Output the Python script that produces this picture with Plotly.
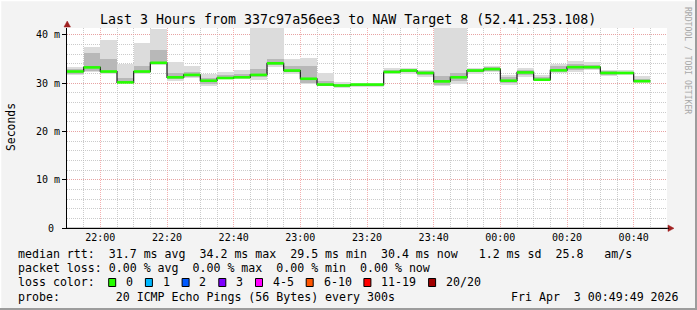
import plotly.graph_objects as go
from datetime import datetime, timedelta

# ---------------- data ----------------
start = datetime(2026, 4, 2, 21, 50)
step_min = 5
median_ms = [32.4, 33.25, 32.4, 30.15, 32.4, 34.2, 31.2, 31.7, 30.5,
             31.05, 31.2, 31.7, 34.1, 32.6, 30.9, 29.7, 29.5, 29.7,
             29.7, 32.3, 32.6, 32.1, 30.35, 31.2, 32.6, 32.9, 30.5,
             32.2, 30.7, 32.65, 33.3, 33.3, 32.1, 32.1, 30.4]
smoke_hi = [33.3, 37.5, 39.0, 34.0, 38.2, 41.3, 34.4, 33.5, 31.9,
            32.3, 32.8, 41.4, 41.4, 35.0, 35.3, 32.1, 30.3, 30.0,
            30.0, 33.1, 33.1, 32.8, 41.4, 41.4, 33.1, 33.6, 31.7,
            33.1, 31.7, 33.95, 34.5, 34.3, 32.8, 32.8, 31.4]
smoke_lo = [31.6, 32.2, 31.9, 30.0, 31.8, 33.7, 30.5, 31.1, 29.5,
            30.8, 30.8, 30.6, 33.3, 31.9, 29.8, 29.3, 29.0, 29.1,
            29.2, 31.8, 31.9, 31.3, 29.3, 29.8, 31.9, 32.4, 29.7,
            31.3, 30.4, 32.0, 32.3, 32.8, 31.4, 31.7, 30.1]
mid_hi = [33.0, 36.3, 35.0, 31.0, 33.5, 36.8, 32.0, 32.3, 31.0,
          31.6, 31.8, 33.0, 35.0, 33.5, 33.5, 30.5, 29.8, 29.9,
          29.9, 32.7, 32.9, 32.5, 31.5, 32.0, 32.9, 33.3, 31.2,
          32.7, 31.2, 33.5, 34.0, 33.8, 32.5, 32.4, 30.9]
mid_lo = [31.9, 32.6, 32.1, 30.0, 32.0, 34.0, 30.8, 31.3, 29.9,
          30.9, 31.0, 31.2, 33.7, 32.3, 30.0, 29.5, 29.2, 29.4,
          29.4, 32.0, 32.2, 31.6, 29.6, 30.5, 32.2, 32.6, 30.0,
          31.6, 30.5, 32.3, 32.8, 33.0, 31.7, 31.8, 30.2]

y_tickvals = [0, 10, 20, 30, 40]
y_ticktext = ["0 ", "10 m", "20 m", "30 m", "40 m"]

title_text = "Last 3 Hours from 337c97a56ee3 to NAW Target 8 (52.41.253.108)"
legend_lines = [
    "median rtt:  31.7 ms avg  34.2 ms max  29.5 ms min  30.4 ms now   1.2 ms sd  25.8   am/s",
    "packet loss: 0.00 % avg  0.00 % max  0.00 % min  0.00 % now",
]
loss_labels = ["0", "1", "2", "3", "4-5", "6-10", "11-19", "20/20"]
loss_colors = ["#26ff00", "#00b8ff", "#0059ff", "#7e00ff", "#ff00ff",
               "#ff5500", "#ff0000", "#a10000"]
probe_text = "probe:        20 ICMP Echo Pings (56 Bytes) every 300s"
date_text = "Fri Apr  3 00:49:49 2026"
side_text = "RRDTOOL / TOBI OETIKER"

# ---------------- geometry helpers ----------------
W, H = 697, 310
ML, MR, MT, MB = 67, 30, 28, 82
PW, PH = W - ML - MR, H - MT - MB
def px(x):
    return (x - ML) / PW
def py(y):
    return (H - MB - y) / PH

MONO = "DejaVu Sans Mono"
def nb(s):
    return s.replace(" ", "\u00a0")

starts = [start + timedelta(minutes=step_min * i) for i in range(len(median_ms))]
ends = [t + timedelta(minutes=step_min) for t in starts]
wms = step_min * 60 * 1000

fig = go.Figure()
fig.add_trace(go.Bar(x=starts, base=smoke_lo, y=[h - l for h, l in zip(smoke_hi, smoke_lo)],
                     offset=0, width=wms, marker=dict(color="#dcdcdc", line=dict(width=0)),
                     hoverinfo="skip"))
fig.add_trace(go.Bar(x=starts, base=mid_lo, y=[h - l for h, l in zip(mid_hi, mid_lo)],
                     offset=0, width=wms, marker=dict(color="#b8b8b8", line=dict(width=0)),
                     hoverinfo="skip"))
# dark band / black step line
fig.add_trace(go.Scatter(x=starts + [ends[-1]], y=median_ms + [median_ms[-1]],
                         mode="lines", line=dict(shape="hv", color="#1a1a1a", width=1.2),
                         hoverinfo="skip"))
gx, gy = [], []
for s, e, m in zip(starts, ends, median_ms):
    gx += [s, e, None]
    gy += [m, m, None]
fig.add_trace(go.Scatter(x=gx, y=gy, mode="lines",
                         line=dict(color="#26ff00", width=2.6), hoverinfo="skip"))

grid_major = "rgba(240,150,150,0.75)"
grid_minor = "rgba(185,185,185,0.75)"
DOT = "1px,1px"
fig.update_layout(
    width=W, height=H, autosize=False,
    margin=dict(l=ML, r=MR, t=MT, b=MB, pad=0),
    paper_bgcolor="#f3f3f3", plot_bgcolor="#ffffff",
    showlegend=False, barmode="overlay", bargap=0,
    font=dict(family=MONO, size=10, color="#000000"),
)
fig.update_xaxes(
    type="date",
    range=[start, start + timedelta(hours=3)],
    tick0=datetime(2026, 4, 2, 22, 0), dtick=20 * 60 * 1000,
    tickformat="%H:%M", ticks="", showline=True, linecolor="#000000", linewidth=1,
    showgrid=True, gridcolor=grid_major, griddash=DOT, gridwidth=1,
    minor=dict(tick0=datetime(2026, 4, 2, 22, 0), dtick=wms, showgrid=True,
               gridcolor=grid_minor, griddash=DOT, gridwidth=1),
    tickfont=dict(family=MONO, size=10), zeroline=False, fixedrange=True,
)
fig.update_yaxes(
    range=[0, PH / 48.3 * 10],
    tickvals=y_tickvals, ticktext=[nb(t) for t in y_ticktext],
    ticks="outside", ticklen=4, tickcolor="#000000",
    showline=True, linecolor="#000000", linewidth=1,
    showgrid=True, gridcolor=grid_major, griddash=DOT, gridwidth=1,
    minor=dict(dtick=2, showgrid=True, gridcolor=grid_minor, griddash=DOT, gridwidth=1),
    tickfont=dict(family=MONO, size=10), zeroline=False, fixedrange=True,
)

ann = []
ann.append(dict(x=px(348), y=py(19), xref="paper", yref="paper", text=nb(title_text),
                showarrow=False, xanchor="center", yanchor="middle",
                font=dict(family=MONO, size=13.3, color="#000000")))
ann.append(dict(x=px(11), y=py(127), xref="paper", yref="paper", text="Seconds",
                showarrow=False, textangle=-90, xanchor="center", yanchor="middle",
                font=dict(family=MONO, size=11.4, color="#000000")))
ann.append(dict(x=px(688), y=py(60), xref="paper", yref="paper", text=nb(side_text),
                showarrow=False, textangle=90, xanchor="center", yanchor="middle",
                font=dict(family=MONO, size=8.1, color="#a8a8a8")))
line_y = [254, 268, 282, 296.5]
for txt, yy in zip(legend_lines, line_y[:2]):
    ann.append(dict(x=px(16), y=py(yy), xref="paper", yref="paper", text=nb(txt),
                    showarrow=False, xanchor="left", yanchor="middle",
                    font=dict(family=MONO, size=11.6, color="#000000")))
ann.append(dict(x=px(16), y=py(line_y[2]), xref="paper", yref="paper", text=nb("loss color:"),
                showarrow=False, xanchor="left", yanchor="middle",
                font=dict(family=MONO, size=11.6, color="#000000")))
ann.append(dict(x=px(16), y=py(line_y[3]), xref="paper", yref="paper", text=nb(probe_text),
                showarrow=False, xanchor="left", yanchor="middle",
                font=dict(family=MONO, size=11.6, color="#000000")))
ann.append(dict(x=px(681), y=py(line_y[3]), xref="paper", yref="paper", text=nb(date_text),
                showarrow=False, xanchor="right", yanchor="middle",
                font=dict(family=MONO, size=11.6, color="#000000")))

shapes = []
bx = 108.7
for lab, col in zip(loss_labels, loss_colors):
    shapes.append(dict(type="rect", xref="paper", yref="paper",
                       x0=px(bx), x1=px(bx + 7), y0=py(286.5), y1=py(278.5),
                       fillcolor=col, line=dict(color="#000000", width=1)))
    ann.append(dict(x=px(bx + 15.3), y=py(line_y[2]), xref="paper", yref="paper", text=nb(lab),
                    showarrow=False, xanchor="left", yanchor="middle",
                    font=dict(family=MONO, size=11.6, color="#000000")))
    bx += 36.7 + 7 * (len(lab) - 1)

# arrows
shapes.append(dict(type="path", xref="paper", yref="paper",
                   path=f"M {px(64)} {py(27)} L {px(70.5)} {py(27)} L {px(67.2)} {py(21)} Z",
                   fillcolor="#a02020", line=dict(color="#a02020", width=0.5)))
shapes.append(dict(type="path", xref="paper", yref="paper",
                   path=f"M {px(668)} {py(225)} L {px(668)} {py(231.5)} L {px(674)} {py(228.3)} Z",
                   fillcolor="#a02020", line=dict(color="#a02020", width=0.5)))
shapes.append(dict(type="line", xref="paper", yref="paper", x0=px(66.5), x1=px(669),
                   y0=py(228.3), y1=py(228.3), line=dict(color="#000000", width=1)))
# frame border
shapes.append(dict(type="line", xref="paper", yref="paper", x0=px(0.5), x1=px(0.5),
                   y0=py(0), y1=py(310), line=dict(color="#ffffff", width=1.5)))
shapes.append(dict(type="line", xref="paper", yref="paper", x0=px(0), x1=px(697),
                   y0=py(0.5), y1=py(0.5), line=dict(color="#ffffff", width=1.5)))
shapes.append(dict(type="line", xref="paper", yref="paper", x0=px(696), x1=px(696),
                   y0=py(0), y1=py(310), line=dict(color="#9c9c9c", width=2)))
shapes.append(dict(type="line", xref="paper", yref="paper", x0=px(0), x1=px(697),
                   y0=py(309), y1=py(309), line=dict(color="#9c9c9c", width=2)))

fig.update_layout(annotations=ann, shapes=shapes)
fig.write_html("out.html")
